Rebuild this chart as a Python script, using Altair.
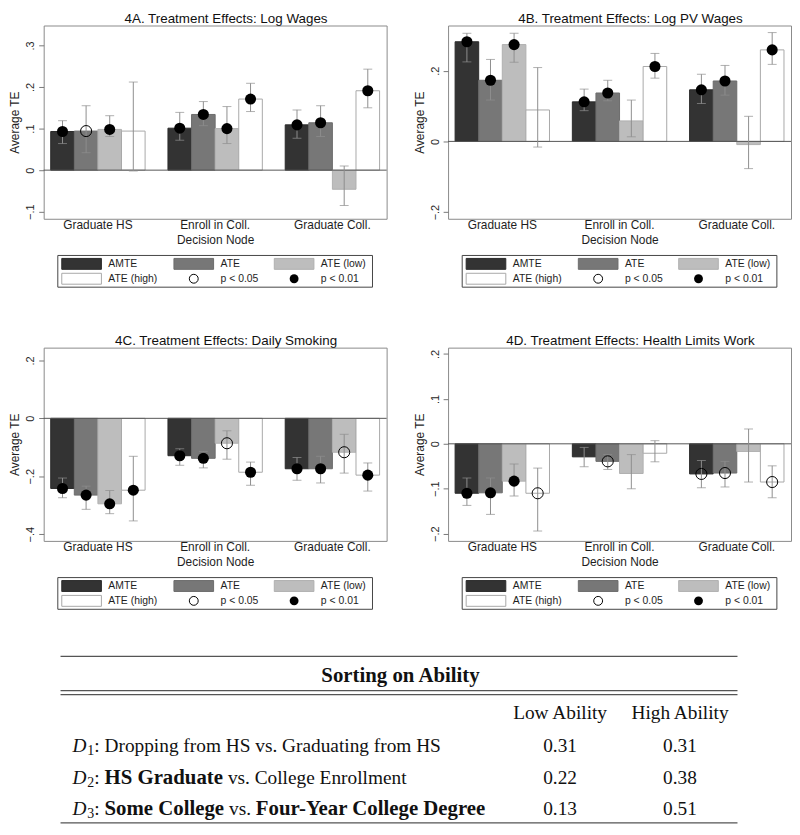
import altair as alt
import pandas as pd

# ---------------- data ----------------
nodes = ["Graduate HS", "Enroll in Coll.", "Graduate Coll."]
measures = ["AMTE", "ATE", "ATE (low)", "ATE (high)"]
bar_fill = ["#333333", "#777777", "#bdbdbd", "#ffffff"]
bar_stroke = ["#2a2a2a", "#6c6c6c", "#b0b0b0", "#a8a8a8"]

titles = ["4A. Treatment Effects: Log Wages", "4B. Treatment Effects: Log PV Wages",
          "4C. Treatment Effects: Daily Smoking", "4D. Treatment Effects: Health Limits Work"]

# order: for each node -> AMTE, ATE, ATE (low), ATE (high)
A_te = [0.093, 0.094, 0.098, 0.094, 0.101, 0.134, 0.100, 0.171, 0.109, 0.114, -0.046, 0.191]
A_lo = [0.064, 0.042, 0.081, -0.002, 0.072, 0.107, 0.064, 0.141, 0.077, 0.081, -0.085, 0.150]
A_hi = [0.119, 0.155, 0.131, 0.212, 0.139, 0.165, 0.153, 0.209, 0.145, 0.155, 0.010, 0.243]
A_sig = ["p01", "p05", "p01", "", "p01", "p01", "p01", "p01", "p01", "p01", "", "p01"]

B_te = [0.282, 0.173, 0.274, 0.089, 0.112, 0.137, 0.058, 0.212, 0.146, 0.171, -0.009, 0.259]
B_lo = [0.225, 0.117, 0.224, -0.016, 0.087, 0.115, 0.013, 0.179, 0.107, 0.131, -0.077, 0.218]
B_hi = [0.306, 0.232, 0.306, 0.209, 0.148, 0.173, 0.117, 0.249, 0.190, 0.215, 0.071, 0.308]
B_sig = ["p01", "p01", "p01", "", "p01", "p01", "", "p01", "p01", "p01", "", "p01"]

C_te = [-0.242, -0.265, -0.295, -0.248, -0.129, -0.138, -0.086, -0.186, -0.174, -0.174, -0.117, -0.196]
C_lo = [-0.274, -0.314, -0.329, -0.354, -0.162, -0.171, -0.141, -0.231, -0.214, -0.223, -0.189, -0.251]
C_hi = [-0.206, -0.234, -0.249, -0.131, -0.105, -0.114, -0.043, -0.151, -0.135, -0.131, -0.055, -0.154]
C_sig = ["p01", "p01", "p01", "p01", "p01", "p01", "p05", "p01", "p01", "p01", "p05", "p01"]

D_te = [-0.110, -0.109, -0.083, -0.110, -0.029, -0.039, -0.066, -0.021, -0.067, -0.065, -0.017, -0.085]
D_lo = [-0.137, -0.157, -0.116, -0.194, -0.051, -0.057, -0.100, -0.040, -0.098, -0.096, -0.085, -0.120]
D_hi = [-0.076, -0.076, -0.045, -0.054, -0.008, -0.024, -0.024, 0.007, -0.037, -0.039, 0.033, -0.049]
D_sig = ["p01", "p01", "p01", "p05", "", "p05", "", "", "p05", "p05", "", "p05"]

domains = [[-0.117, 0.348], [-0.219, 0.328], [-0.423, 0.244], [-0.216, 0.214]]
tick_vals = [[-0.1, 0, 0.1, 0.2, 0.3], [-0.2, -0.1, 0, 0.1, 0.2, 0.3],
             [-0.4, -0.2, 0, 0.2], [-0.2, -0.1, 0, 0.1, 0.2]]

legend_labels = ["AMTE", "ATE", "ATE (low)", "ATE (high)", "p < 0.05", "p < 0.01"]

table_title = "Sorting on Ability"
table_cols = ["Low Ability", "High Ability"]
row_idx = ["1", "2", "3"]
row_parts = [
    [("Dropping from HS vs. Graduating from HS", "n")],
    [("HS Graduate", "b"), (" vs. College Enrollment", "n")],
    [("Some College", "b"), (" vs. ", "n"), ("Four-Year College Degree", "b")],
]
low_vals = [0.31, 0.22, 0.13]
high_vals = [0.31, 0.38, 0.51]

# ---------------- layout / style ----------------
FONT = "Liberation Sans"
SERIF = "Liberation Serif"
PW, PH = 346, 195
TXT = "#1e1e1e"

ARIAL = {'A': 667, 'M': 833, 'T': 611, 'E': 667, ' ': 278, '(': 333, ')': 333, 'h': 556, 'i': 222,
         'g': 556, 'l': 222, 'o': 556, 'w': 722, 'p': 556, '<': 584, '0': 556, '.': 278, '5': 556, '1': 556}
TR = {'A': 722, 'B': 667, 'C': 667, 'D': 722, 'E': 611, 'F': 556, 'G': 722, 'H': 722, 'I': 333, 'L': 611,
      'S': 556, 'Y': 722, 'a': 444, 'b': 500, 'c': 444, 'd': 500, 'e': 444, 'f': 333, 'g': 500, 'h': 500,
      'i': 278, 'l': 278, 'm': 778, 'n': 500, 'o': 500, 'p': 500, 'r': 333, 's': 389, 't': 278, 'u': 500,
      'v': 500, 'y': 500, ' ': 250, '.': 250, ':': 278, '-': 333}
TB = {'A': 722, 'C': 722, 'D': 722, 'F': 611, 'G': 778, 'H': 778, 'S': 556, 'Y': 722, 'a': 500, 'b': 556,
      'c': 444, 'd': 556, 'e': 444, 'g': 500, 'i': 278, 'l': 278, 'm': 833, 'n': 556, 'o': 500, 'r': 444,
      's': 389, 't': 333, 'u': 556, 'v': 500, 'y': 500, ' ': 250, '-': 333, '.': 250}


def tw(s, fs, table):
    return sum(table.get(c, 500) for c in s) * fs / 1000.0


LABEL_EXPR = "replace(format(datum.value, '.1~f'), '0.', '.')"


def legend_chart():
    fs = 10.5
    LW = PW
    LH = 32
    rows_y = [8.5, 23.5]
    cols = [[legend_labels[0], legend_labels[3]], [legend_labels[1], legend_labels[4]],
            [legend_labels[2], legend_labels[5]]]
    widths = [max(tw(s, fs, ARIAL) for s in c) for c in cols]
    col_x = [0.0]
    for c in range(2):
        col_x.append(col_x[-1] + 47 + widths[c] + 16)
    content_w = col_x[2] + 47 + widths[2]
    box_w = content_w + 10
    bx0 = PW / 2 - box_w / 2
    cx0 = bx0 + 4
    recs = []
    for i, lab in enumerate(legend_labels):
        r, c = i // 3, i % 3
        sx = cx0 + col_x[c]
        kind = "rect" if lab in measures else ("open" if i == 4 else "dot")
        recs.append(dict(label=lab, kind=kind, x0=sx, x1=sx + 40, xc=sx + 20, tx=sx + 47,
                         yc=rows_y[r], y0=rows_y[r] - 5.5, y1=rows_y[r] + 5.5))
    ldf = pd.DataFrame(recs)
    xs = alt.Scale(domain=[0, LW], nice=False, zero=False)
    ys = alt.Scale(domain=[0, LH], nice=False, zero=False, reverse=True)
    frame = alt.Chart(pd.DataFrame({"a": [bx0], "b": [bx0 + box_w], "c": [0], "d": [LH]})).mark_rect(
        fill="white", stroke="#444444", strokeWidth=1).encode(
        x=alt.X("a:Q", scale=xs, axis=None), x2="b:Q", y=alt.Y("c:Q", scale=ys, axis=None), y2="d:Q")
    lb = alt.Chart(ldf)
    sw = lb.mark_rect(strokeWidth=1).encode(
        x=alt.X("x0:Q", scale=xs, axis=None), x2="x1:Q", y=alt.Y("y0:Q", scale=ys, axis=None), y2="y1:Q",
        fill=alt.Fill("label:N", scale=alt.Scale(domain=measures, range=bar_fill), legend=None),
        stroke=alt.Stroke("label:N", scale=alt.Scale(domain=measures, range=bar_stroke), legend=None),
    ).transform_filter("datum.kind == 'rect'")
    dot = lb.mark_point(shape="circle", filled=True, color="black", size=80, opacity=1).encode(
        x=alt.X("xc:Q", scale=xs, axis=None), y=alt.Y("yc:Q", scale=ys, axis=None)
    ).transform_filter("datum.kind == 'dot'")
    opn = lb.mark_point(shape="circle", filled=False, color="black", strokeWidth=1, size=80, opacity=1).encode(
        x=alt.X("xc:Q", scale=xs, axis=None), y=alt.Y("yc:Q", scale=ys, axis=None)
    ).transform_filter("datum.kind == 'open'")
    txt = lb.mark_text(align="left", baseline="middle", fontSize=fs, font=FONT, color=TXT).encode(
        x=alt.X("tx:Q", scale=xs, axis=None), y=alt.Y("yc:Q", scale=ys, axis=None), text="label:N")
    return alt.layer(frame, sw, dot, opn, txt).properties(
        width=LW, height=LH, view=alt.ViewBackground(stroke="transparent"))


def panel(k, te, lo, hi, sig):
    df = pd.DataFrame({
        "node": [nodes[i // 4] for i in range(12)],
        "measure": [measures[i % 4] for i in range(12)],
        "te": te, "lo": lo, "hi": hi, "sig": sig,
    })
    xenc = alt.X("node:N", sort=nodes, title="Decision Node",
                 scale=alt.Scale(paddingInner=0.195, paddingOuter=0.06),
                 axis=alt.Axis(labelAngle=0, ticks=False, domain=False, labelPadding=1, titlePadding=4,
                               labelFontSize=12, titleFontSize=12, titleFontWeight="normal",
                               labelColor=TXT, titleColor=TXT))
    xo = alt.XOffset("measure:N", sort=measures, scale=alt.Scale(paddingInner=0, paddingOuter=0))
    yscale = alt.Scale(domain=domains[k], nice=False, zero=False)
    yaxis = alt.Axis(values=tick_vals[k], labelExpr=LABEL_EXPR, labelAngle=270, grid=False, domain=False,
                     tickSize=5, tickColor="#777777", labelPadding=3, titlePadding=3, labelFontSize=11,
                     titleFontSize=12, titleFontWeight="normal", labelColor=TXT, titleColor=TXT)
    base = alt.Chart(df).encode(x=xenc, xOffset=xo)
    bars = base.mark_bar(strokeWidth=1).encode(
        y=alt.Y("te:Q", scale=yscale, axis=yaxis, stack=None, title="Average TE"),
        y2=alt.datum(0),
        fill=alt.Fill("measure:N", scale=alt.Scale(domain=measures, range=bar_fill), legend=None),
        stroke=alt.Stroke("measure:N", scale=alt.Scale(domain=measures, range=bar_stroke), legend=None),
    )
    zero = alt.Chart(pd.DataFrame({"z": [0]})).mark_rule(color="#555555", strokeWidth=1).encode(
        y=alt.Y("z:Q", title="Average TE"))
    err = base.mark_rule(color="#8e8e8e", strokeWidth=1).encode(
        y=alt.Y("lo:Q", title="Average TE"), y2="hi:Q")
    cap_lo = base.mark_tick(color="#8e8e8e", thickness=1, size=9).encode(y=alt.Y("lo:Q", title="Average TE"))
    cap_hi = base.mark_tick(color="#8e8e8e", thickness=1, size=9).encode(y=alt.Y("hi:Q", title="Average TE"))
    p01 = base.mark_point(shape="circle", filled=True, color="black", size=125, opacity=1).encode(
        y=alt.Y("te:Q", title="Average TE")).transform_filter("datum.sig == 'p01'")
    p05 = base.mark_point(shape="circle", filled=False, color="black", strokeWidth=1, size=125, opacity=1).encode(
        y=alt.Y("te:Q", title="Average TE")).transform_filter("datum.sig == 'p05'")
    plot = alt.layer(bars, zero, err, cap_lo, cap_hi, p01, p05).properties(
        width=PW, height=PH,
        title=alt.TitleParams(titles[k], fontSize=13.5, fontWeight="normal", font=FONT, color="#111111",
                              anchor="middle", frame="group", dx=11, offset=0),
        view=alt.ViewBackground(stroke="#8a8a8a", strokeWidth=1),
    )
    return alt.vconcat(plot, legend_chart(), spacing=8)


def table_chart():
    # x positions are relative to the left edge of the first plot area
    TW, TH = 751, 173
    fs = 19.5
    fsb = 21
    sub_fs = 14
    lx0, lx1 = 17, 700
    c1, c2 = 521, 642
    segs = []
    segs.append(dict(t=table_title, x=360, y=23, st="btitle"))
    for j, h in enumerate(table_cols):
        segs.append(dict(t=h, x=[c1, c2][j], y=61, st="center"))
    row_y = [94, 126, 158]
    for r in range(3):
        x = 29.0
        y = row_y[r]
        segs.append(dict(t="D", x=x, y=y, st="ital"))
        x += tw("D", fs, TR) + 1
        segs.append(dict(t=row_idx[r], x=x, y=y + 5, st="sub"))
        x += tw(row_idx[r], sub_fs, TR)
        segs.append(dict(t=":", x=x, y=y, st="n"))
        x += tw(": ", fs, TR)
        for text, st in row_parts[r]:
            tbl, f = (TB, fsb) if st == "b" else (TR, fs)
            lead = len(text) - len(text.lstrip(" "))
            segs.append(dict(t=text.strip(" "), x=x + tw(" " * lead, f, tbl), y=y, st=st))
            x += tw(text, f, tbl)
        segs.append(dict(t=f"{low_vals[r]:.2f}", x=c1, y=y, st="center"))
        segs.append(dict(t=f"{high_vals[r]:.2f}", x=c2, y=y, st="center"))
    sdf = pd.DataFrame(segs)
    xs = alt.Scale(domain=[0, TW], nice=False, zero=False)
    ys = alt.Scale(domain=[0, TH], nice=False, zero=False, reverse=True)
    base = alt.Chart(sdf).encode(x=alt.X("x:Q", scale=xs, axis=None), y=alt.Y("y:Q", scale=ys, axis=None),
                                 text="t:N")

    def lay(st, **kw):
        return base.mark_text(baseline="middle", font=SERIF, color="#111111", **kw).transform_filter(
            f"datum.st == '{st}'")

    layers = [
        lay("btitle", align="center", fontSize=fsb, fontWeight="bold"),
        lay("center", align="center", fontSize=fs),
        lay("n", align="left", fontSize=fs),
        lay("b", align="left", fontSize=fsb, fontWeight="bold"),
        lay("ital", align="left", fontSize=fs, fontStyle="italic"),
        lay("sub", align="left", fontSize=sub_fs),
    ]
    lines = alt.Chart(pd.DataFrame({"ly": [3.5, 38, 42, 171.5], "a": lx0, "b": lx1})).mark_rule(
        color="#555555", strokeWidth=1.3).encode(
        x=alt.X("a:Q", scale=xs, axis=None), x2="b:Q", y=alt.Y("ly:Q", scale=ys, axis=None))
    return alt.layer(lines, *layers).properties(width=TW, height=TH,
                                                view=alt.ViewBackground(stroke="transparent"))


pA = panel(0, A_te, A_lo, A_hi, A_sig)
pB = panel(1, B_te, B_lo, B_hi, B_sig)
pC = panel(2, C_te, C_lo, C_hi, C_sig)
pD = panel(3, D_te, D_lo, D_hi, D_sig)

row1 = alt.hconcat(pA, pB, spacing=25)
row2 = alt.hconcat(pC, pD, spacing=25)
grid = alt.vconcat(row1, row2, spacing=46)

chart = alt.vconcat(grid, table_chart(), spacing=42).properties(
    padding=0, background="white"
).configure(font=FONT).configure_view(stroke="transparent").resolve_scale(fill="independent", stroke="independent")

chart.save("out.html", embed_options={"renderer": "svg", "actions": False})
